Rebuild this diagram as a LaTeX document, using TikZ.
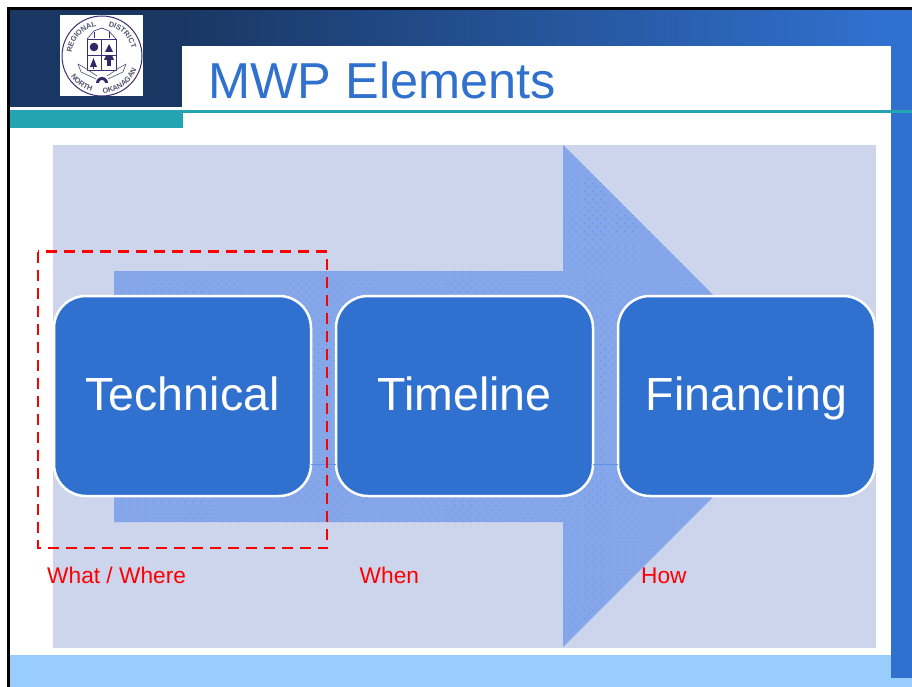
\documentclass[tikz,border=0pt]{standalone}
\usepackage{fontspec}
\setmainfont{Liberation Sans}
\usetikzlibrary{patterns.meta,decorations.text,shapes.geometric}
\definecolor{navy}{HTML}{1A3763}
\definecolor{mwpblue}{HTML}{3070CE}
\definecolor{panelbg}{HTML}{CDD5EC}
\definecolor{arrowblue}{HTML}{85A7EA}
\definecolor{dotblue}{HTML}{4F88EE}
\definecolor{teal2}{HTML}{24A4B0}
\definecolor{footblue}{HTML}{99CCFF}
\definecolor{logoink}{HTML}{3A2F78}
\definecolor{logotext}{HTML}{50536A}
\tikzset{
  stepbox/.style={draw=white,line width=2.5pt,fill=mwpblue,rounded corners=32pt,
    minimum width=257pt,minimum height=200pt,inner sep=0pt,outer sep=0pt,text=white,
    font=\fontsize{46.5}{52}\selectfont,text height=33pt,text depth=4pt,align=center},
  redlabel/.style={anchor=base west,inner sep=0pt,text=red,font=\fontsize{22.7}{26}\selectfont},
  titletext/.style={anchor=base west,inner sep=0pt,text=mwpblue,font=\fontsize{50.5}{56}\selectfont},
  focusbox/.style={draw=red,line width=2.7pt,dash pattern=on 11pt off 7pt},
  seam/.style={draw=dotblue!70!arrowblue,line width=0.6pt},
  logoline/.style={draw=logoink,line width=0.8pt},
  logofill/.style={fill=logoink!85!black},
}
\begin{document}
\begin{tikzpicture}[x=1pt,y=-1pt]
\useasboundingbox (0,0) rectangle (912,687);
\fill[white] (0,0) rectangle (912,687);
% frame and header
\fill[navy] (10,10) rectangle (182,107);
\shade[left color=navy,right color=mwpblue,shading angle=90] (182,10) rectangle (880,46);
\fill[mwpblue] (880,10) rectangle (912,46);
\fill[mwpblue] (891,46) rectangle (912,678);
\fill[footblue] (10,655) rectangle (912,687);
\fill[mwpblue] (891,655) rectangle (912,678);
\fill[black] (7,7) rectangle (912,10);
\fill[black] (7,7) rectangle (10,687);
\fill[teal2] (10,110) rectangle (183,128);
\fill[teal2] (183,110) rectangle (912,113);
\node[titletext] (title) at (208,99) {MWP Elements};
% panel
\fill[panelbg] (53,145) rectangle (876,648);
% arrow
\fill[arrowblue] (114,271) -- (563,271) -- (563,145) -- (814,396) -- (563,647) -- (563,522) -- (114,522) -- cycle;
\fill[pattern={Dots[radius=0.5pt,distance=5.7pt,angle=45]},pattern color=dotblue]
  (114,271) -- (563,271) -- (563,145) -- (814,396) -- (563,647) -- (563,522) -- (114,522) -- cycle;
% boxes
\node[stepbox] (technical) at (182.5,396) {Technical};
\node[stepbox] (timeline) at (464.5,396) {Timeline};
\node[stepbox] (financing) at (746.5,396) {Financing};
\coordinate (s1) at (technical.east |- 0,464);
\coordinate (s2) at (timeline.west |- 0,464);
\coordinate (s3) at (timeline.east |- 0,464);
\coordinate (s4) at (financing.west |- 0,464);
\draw[seam] (s1) -- (s2);
\draw[seam] (s3) -- (s4);
% red annotation
\draw[focusbox] (38,251.5) rectangle (327,548);
\node[redlabel] (what) at (47,583) {What / Where};
\node[redlabel] (when) at (359.5,583) {When};
\node[redlabel] (how) at (641,583) {How};
% logo
\fill[white] (60,15) rectangle (143,96);
\begin{scope}[shift={(102,56)},yscale=-1]
  \draw[logoline,line width=1pt] (0,0) circle (40);
  \path[decorate,decoration={text along path,text align=center,
    text={|\fontsize{7.4}{8}\selectfont\bfseries\color{logotext}|REGIONAL}}]
    (178:30.5) arc (178:96:30.5);
  \path[decorate,decoration={text along path,text align=center,
    text={|\fontsize{7.4}{8}\selectfont\bfseries\color{logotext}|DISTRICT}}]
    (84:30.5) arc (84:8:30.5);
  \path[decorate,decoration={text along path,text align=center,
    text={|\fontsize{7.4}{8}\selectfont\bfseries\color{logotext}|NORTH}}]
    (208:37) arc (208:258:37);
  \path[decorate,decoration={text along path,text align=center,
    text={|\fontsize{7.4}{8}\selectfont\bfseries\color{logotext}|OKANAGAN}}]
    (268:37) arc (268:342:37);
  % shield
  \draw[logoline,fill=white] (-15,17) rectangle (14,-14);
  \draw[logoline] (-0.5,17) -- (-0.5,-14) (-15,1) -- (14,1);
  \draw[logoline,line width=0.6pt] (-15,17) -- (-8,25) -- (0,28) -- (7,25) -- (14,17);
  \draw[logoline,line width=0.5pt] (-8,18) -- (-8,24) (7,18) -- (7,24);
  % quarters
  \fill[logofill] (-8,9) circle (4.3);
  \fill[logofill] (7,12) -- (3,4) -- (11,4) -- cycle;
  \fill[logofill] (-8.5,-2) -- (-12,-11) -- (-5,-11) -- cycle;
  \fill[logofill] (-9.3,-11) rectangle (-7.7,-13);
  \fill[logofill] (2,-4) arc (180:0:5) -- cycle;
  \fill[logofill] (5,-4) rectangle (9,-10);
  % banner and sunrise
  \draw[logoline,line width=0.6pt,draw=logotext] (-24,-8) -- (-21,-16) -- (-6,-23);
  \draw[logoline,line width=0.6pt,draw=logotext] (24,-8) -- (21,-16) -- (6,-23);
  \draw[logoline,line width=0.6pt,draw=logotext] (-24,-8) -- (-17,-12) -- (-5,-20);
  \draw[logoline,line width=0.6pt,draw=logotext] (24,-8) -- (17,-12) -- (5,-20);
  \fill[logofill] (-6,-27) arc (180:0:6) -- cycle;
  \fill[white] (-3,-27) arc (180:0:3) -- cycle;
\end{scope}
\end{tikzpicture}
\end{document}
